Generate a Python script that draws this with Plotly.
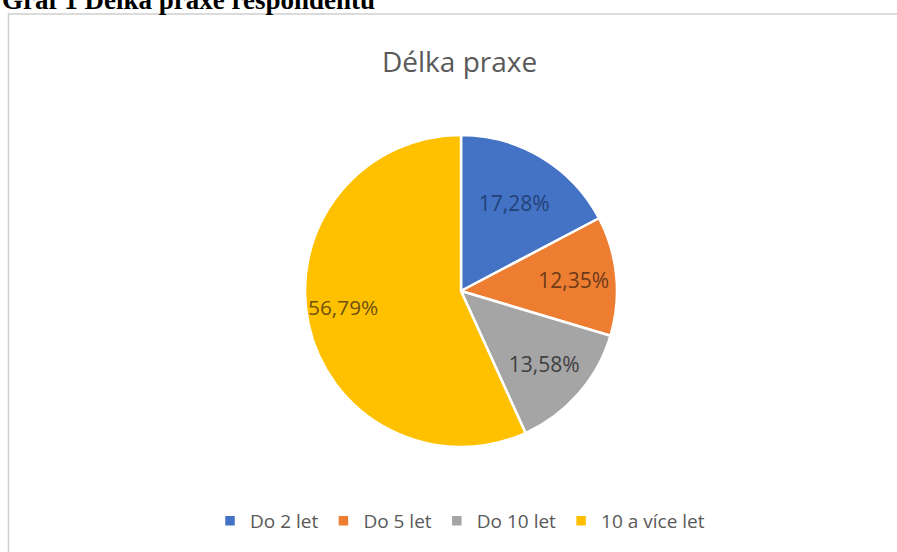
import plotly.graph_objects as go

W, H = 897, 552

categories = ["Do 2 let", "Do 5 let", "Do 10 let", "10 a více let"]
values = [17.28, 12.35, 13.58, 56.79]
label_texts = ["17,28%", "12,35%", "13,58%", "56,79%"]

slice_colors = ["#4472C4", "#ED7D31", "#A5A5A5", "#FFC000"]
label_colors = ["#22427A", "#6E3A18", "#404040", "#6E5210"]

# invisible padding (figure spaces) nudges the big label toward Excel's "best fit" spot
FS = "\u2007"
pad_after = [0, 0, 0, 7]
shown = [t + FS * a for t, a in zip(label_texts, pad_after)]

fig = go.Figure(
    go.Pie(
        labels=categories,
        values=values,
        text=shown,
        texttemplate="%{text}",
        textposition="inside",
        insidetextorientation="horizontal",
        sort=False,
        direction="clockwise",
        rotation=0,
        marker=dict(colors=slice_colors, line=dict(color="white", width=2.5)),
        insidetextfont=dict(family="Open Sans", size=21, color=label_colors),
        hoverinfo="label+percent",
        domain=dict(x=[305 / W, 617 / W], y=[1 - 447 / H, 1 - 135 / H]),
    )
)

fig.update_layout(
    width=W,
    height=H,
    margin=dict(l=0, r=0, t=0, b=0),
    paper_bgcolor="white",
    plot_bgcolor="white",
    showlegend=True,
    legend=dict(
        orientation="h",
        x=460 / W,
        xanchor="center",
        y=1 - 521 / H,
        yanchor="middle",
        font=dict(family="Open Sans", size=19, color="#595959"),
        itemwidth=30,
        traceorder="normal",
    ),
    annotations=[
        dict(
            text="Délka praxe",
            x=460 / W, y=1 - 61 / H, xref="paper", yref="paper",
            xanchor="center", yanchor="middle", showarrow=False,
            font=dict(family="Open Sans", size=28, color="#595959"),
        ),
        dict(
            text="<b>Graf 1 Délka praxe respondentů</b>",
            x=0, y=1 - 17 / H, xref="paper", yref="paper",
            xanchor="left", yanchor="bottom", showarrow=False,
            font=dict(family="Liberation Serif", size=27, color="black"),
        ),
    ],
    shapes=[
        dict(
            type="rect", xref="paper", yref="paper",
            x0=8.5 / W, x1=1.02, y0=-0.02, y1=1 - 14 / H,
            line=dict(color="#D0D0D0", width=1.5),
            fillcolor="rgba(0,0,0,0)",
        )
    ],
)

fig.write_html("out.html")
